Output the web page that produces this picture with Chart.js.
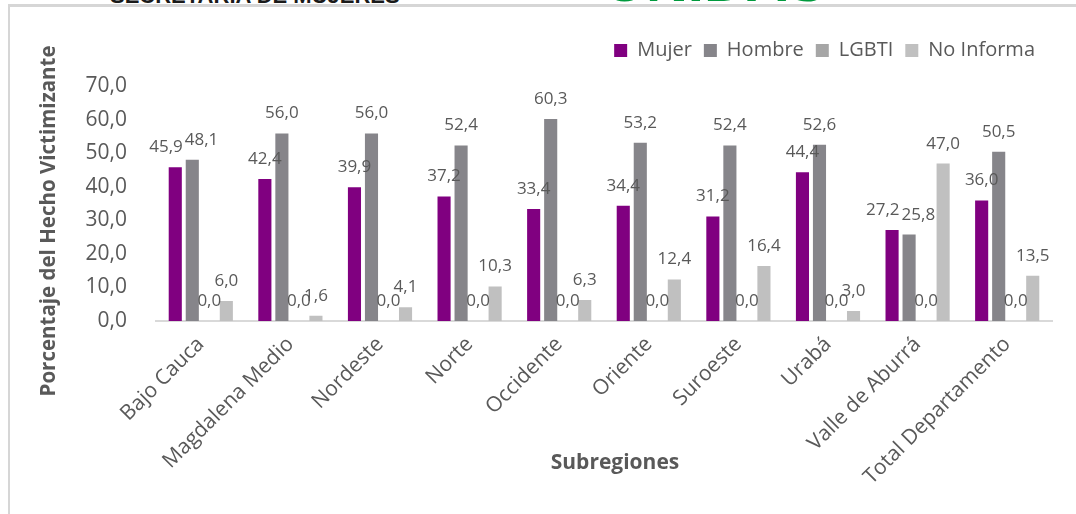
<!DOCTYPE html>
<html>
<head>
<meta charset="utf-8">
<script src="https://cdn.jsdelivr.net/npm/chart.js@4/dist/chart.umd.min.js"></script>
<style>
  html, body { margin: 0; padding: 0; background: #fff; width: 1076px; height: 514px; overflow: hidden; }
  .hdr { position: absolute; font-family: "Liberation Sans", Arial, sans-serif; font-weight: bold; white-space: nowrap; line-height: 1; }
  #h1 { left: 110px; top: -15px; font-size: 22px; color: #1a1a1a; }
  #h2 { left: 604px; top: -48px; font-size: 58px; color: #009a3d; }
  #frame { position: absolute; left: 8px; top: 4px; width: 1100px; height: 540px; background: #fff;
           border-left: 2px solid #d6d6d6; border-top: 3px solid #d6d6d6; z-index: 1; }
  #wrap { position: absolute; left: 0; top: 0; width: 1076px; height: 514px; z-index: 2; }
</style>
</head>
<body>
<div class="hdr" id="h1">SECRETARÍA DE MUJERES</div>
<div class="hdr" id="h2">UNIDAS</div>
<div id="frame"></div>
<div id="wrap"><canvas id="c" width="1076" height="514"></canvas></div>
<script>
const categories = ["Bajo Cauca", "Magdalena Medio", "Nordeste", "Norte", "Occidente", "Oriente", "Suroeste", "Urabá", "Valle de Aburrá", "Total Departamento"];
const mujer     = [45.9, 42.4, 39.9, 37.2, 33.4, 34.4, 31.2, 44.4, 27.2, 36.0];
const hombre    = [48.1, 56.0, 56.0, 52.4, 60.3, 53.2, 52.4, 52.6, 25.8, 50.5];
const lgbti     = [0.0, 0.0, 0.0, 0.0, 0.0, 0.0, 0.0, 0.0, 0.0, 0.0];
const noInforma = [6.0, 1.6, 4.1, 10.3, 6.3, 12.4, 16.4, 3.0, 47.0, 13.5];
const seriesNames = ["Mujer", "Hombre", "LGBTI", "No Informa"];
const yTicks = [0, 10, 20, 30, 40, 50, 60, 70];

const colors = ["#800080", "#86858a", "#a6a6a6", "#c0c0c0"];
const textColor = "#595959";
const FONT = "'Open Sans', 'Noto Sans', sans-serif";
const fmt = v => v.toFixed(1).replace('.', ',');

const labelPlugin = {
  id: 'valueLabels',
  afterDatasetsDraw(chart) {
    const ctx = chart.ctx;
    ctx.save();
    ctx.font = "17px " + FONT;
    ctx.fillStyle = textColor;
    ctx.textAlign = 'center';
    ctx.textBaseline = 'alphabetic';
    const n = chart.data.labels.length;
    for (let j = 0; j < n; j++) {
      const items = chart.data.datasets.map((ds, i) => {
        const el = chart.getDatasetMeta(i).data[j];
        const t = fmt(ds.data[j]);
        return { t, x: el.x, y: el.y - 15, w: ctx.measureText(t).width };
      });
      // nudge the first two labels apart when they collide (as the spreadsheet does)
      const a = items[0], b = items[1];
      const need = (a.w + b.w) / 2 + 2;
      if (b.x - a.x < need && Math.abs(a.y - b.y) < 14) {
        const d = (need - (b.x - a.x)) / 2;
        a.x -= d; b.x += d;
      }
      items.forEach(it => ctx.fillText(it.t, it.x, it.y));
    }
    ctx.restore();
  }
};

const titlePlugin = {
  id: 'axisTitles',
  afterLayout(chart) {
    // raise the legend row above the plot, as in the reference
    const lg = chart.legend;
    if (lg) { lg.top -= 16; lg.bottom -= 16; lg.right -= 5; }
  },
  afterDraw(chart) {
    const ctx = chart.ctx;
    ctx.save();
    ctx.fillStyle = textColor;
    ctx.textAlign = 'center';
    ctx.textBaseline = 'middle';
    ctx.font = "bold 21px " + FONT;
    ctx.fillText("Subregiones", 615, 463);
    ctx.translate(49, 221);
    ctx.rotate(-Math.PI / 2);
    ctx.font = "bold 20.5px " + FONT;
    ctx.fillText("Porcentaje del Hecho Victimizante", 0, 0);
    ctx.restore();
  }
};

const datasets = [mujer, hombre, lgbti, noInforma].map((d, i) => ({
  label: seriesNames[i],
  data: d,
  backgroundColor: colors[i],
  borderWidth: 0,
  categoryPercentage: 0.76,
  barPercentage: 0.77
}));

new Chart(document.getElementById('c'), {
  type: 'bar',
  data: { labels: categories, datasets },
  plugins: [labelPlugin, titlePlugin],
  options: {
    responsive: false,
    animation: false,
    events: [],
    layout: { padding: { left: 0, right: 24, top: 44.5, bottom: 0 } },
    plugins: {
      tooltip: { enabled: false },
      legend: {
        position: 'top',
        align: 'end',
        labels: {
          boxWidth: 13, boxHeight: 13, padding: 12,
          color: textColor,
          font: { family: FONT, size: 20 }
        }
      }
    },
    scales: {
      x: {
        grid: { display: false },
        border: { display: true, color: '#d9d9d9', width: 2 },
        ticks: {
          color: textColor, font: { family: FONT, size: 21 },
          minRotation: 45, maxRotation: 45, autoSkip: false, padding: 3
        },
        afterFit(s) { s.height = 193; }
      },
      y: {
        min: 0, max: 70,
        grid: { display: false },
        border: { display: false },
        afterBuildTicks(s) { s.ticks = yTicks.map(v => ({ value: v })); },
        ticks: {
          color: textColor, font: { family: FONT, size: 21 }, padding: 21,
          callback: v => fmt(v)
        },
        afterFit(s) { s.width = 156; }
      }
    }
  }
});
</script>
</body>
</html>
